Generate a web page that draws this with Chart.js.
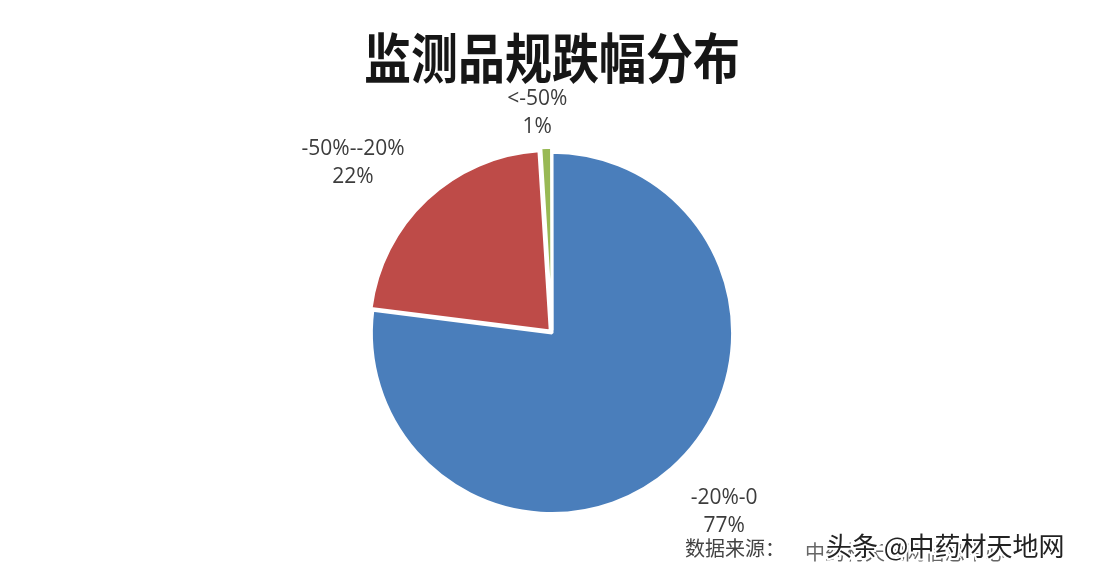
<!DOCTYPE html>
<html>
<head>
<meta charset="utf-8">
<script src="https://cdn.jsdelivr.net/npm/chart.js@4/dist/chart.umd.min.js"></script>
<style>
  html, body { margin: 0; padding: 0; background: #fff; }
  #wrap { width: 1100px; height: 578px; position: relative; }
</style>
</head>
<body>
<div id="wrap"><canvas id="chart"></canvas></div>
<script>
// data
var categories = ['-20%-0', '-50%--20%', '<-50%'];
var shares = [77, 22, 1];
var sliceColors = ['#4a7ebb', '#be4b48', '#98b954'];
var titleText = '监测品规跌幅分布';
var sourceText = '数据来源：';
var sourceName = '中药材天地网信息中心';
var watermark = '头条 @中药材天地网';

// outside labels: category on first line, percent below
var outsideLabels = {
    id: 'outsideLabels',
    afterDatasetsDraw: function(chart, args, opts) {
        var ctx = chart.ctx;
        var meta = chart.getDatasetMeta(0);
        ctx.save();
        ctx.font = '21px "Open Sans", sans-serif';
        ctx.fillStyle = '#3c3c3c';
        ctx.textAlign = 'center';
        ctx.textBaseline = 'middle';
        meta.data.forEach(function(arc, i) {
            var mid = (arc.startAngle + arc.endAngle) / 2;
            var r = arc.outerRadius + opts.extra[i];
            var x = arc.x + Math.cos(mid) * r + opts.nudge[i][0];
            var y = arc.y + Math.sin(mid) * r + opts.nudge[i][1];
            ctx.fillText(categories[i], x, y - 14);
            ctx.fillText(shares[i] + '%', x, y + 14);
        });
        ctx.restore();
    }
};

var footer = {
    id: 'footer',
    afterDraw: function(chart) {
        var ctx = chart.ctx;
        ctx.save();
        ctx.textBaseline = 'middle';
        ctx.textAlign = 'left';
        ctx.font = '20px "Noto Sans CJK SC", sans-serif';
        ctx.fillStyle = '#444';
        ctx.fillText(sourceText, 685, 548);
        ctx.fillStyle = '#666';
        ctx.fillText(sourceName, 805, 552);
        ctx.font = '26px "Noto Sans CJK SC", sans-serif';
        ctx.lineWidth = 4;
        ctx.strokeStyle = '#fff';
        ctx.strokeText(watermark, 826, 546);
        ctx.fillStyle = '#222';
        ctx.fillText(watermark, 826, 546);
        ctx.restore();
    }
};

new Chart(document.getElementById('chart'), {
    type: 'pie',
    data: {
        labels: categories,
        datasets: [{
            data: shares,
            backgroundColor: sliceColors,
            borderColor: '#fff',
            borderWidth: 3,
            offset: [0, 10, 10]
        }]
    },
    options: {
        responsive: true,
        maintainAspectRatio: false,
        animation: false,
        layout: { padding: { left: 364, right: 360, top: 0, bottom: 58 } },
        plugins: {
            legend: { display: false },
            tooltip: { enabled: false },
            title: {
                display: true,
                text: titleText,
                color: '#161616',
                font: { family: '"Noto Sans CJK SC", sans-serif', size: 54, weight: 'bold' },
                padding: { top: 26, bottom: 55 }
            },
            outsideLabels: { extra: [66, 75, 33], nudge: [[9, -6], [-24, 16], [-8, -6]] }
        }
    },
    plugins: [outsideLabels, footer]
});
</script>
</body>
</html>
